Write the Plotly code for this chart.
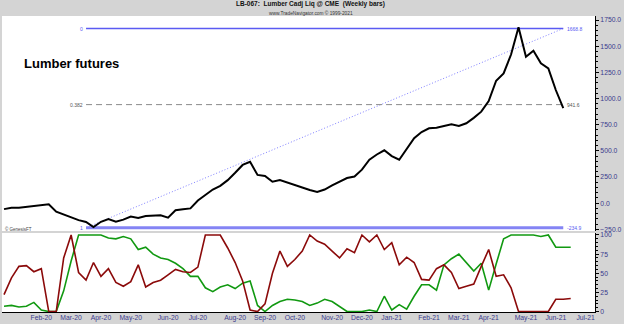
import pandas as pd
import plotly.graph_objects as go

# ---------------- data ----------------
start = pd.Timestamp("2020-01-03")  # first weekly bar (Friday)

price = [-57, -43, -45, -38, -30, -22, -10, -82, -108, -140,
         -162, -180, -228, -178, -152, -178, -157, -128, -142, -123,
         -118, -116, -138, -68, -58, -50, 25, 80, 130, 165,
         220, 290, 365, 395, 270, 260, 205, 220, 195, 175,
         145, 125, 107, 130, 170, 205, 240, 255, 320, 415,
         465, 505, 450, 415, 520, 620, 680, 715, 720, 735,
         753, 737, 763, 815, 874, 975, 1170, 1240, 1420, 1680,
         1399, 1457, 1336, 1288, 1081, 909]

green = [7, 8, 6, 7, 12, 2, 0, 0, 27, 66,
         100, 100, 100, 100, 96, 95, 98, 95, 81, 84,
         75, 70, 68, 63, 56, 46, 46, 31, 26, 32,
         35, 30, 37, 40, 8, 0, 8, 13, 16, 15,
         13, 8, 11, 16, 13, 7, 0, 0, 0, 2,
         0, 20, 2, 9, 3, 20, 35, 35, 28, 61,
         69, 75, 64, 53, 63, 28, 62, 95, 100, 100,
         100, 100, 98, 100, 84, 84, 84]

red = [22, 44, 59, 60, 52, 56, 0, 0, 70, 100,
       51, 41, 64, 46, 56, 38, 33, 39, 61, 32,
       38, 41, 48, 55, 52, 51, 58, 100, 100, 100,
       83, 64, 40, 2, 0, 10, 50, 79, 59, 68,
       79, 100, 92, 88, 79, 70, 82, 77, 100, 91,
       100, 81, 90, 61, 71, 64, 42, 41, 56, 61,
       51, 30, 33, 36, 59, 81, 46, 48, 31, 0,
       0, 0, 0, 0, 16, 16, 17]

fib_levels = [1668.8, 941.6, -234.9]
fib_ratio_labels = ["0", "0.382", "1"]
fib_start_index = 11
fib_end_index = 75

tick_dates = ["2020-02-07", "2020-03-06", "2020-04-03", "2020-05-01", "2020-06-05",
              "2020-07-03", "2020-08-07", "2020-09-04", "2020-10-02", "2020-11-06",
              "2020-12-04", "2021-01-01", "2021-02-05", "2021-03-05", "2021-04-02",
              "2021-05-07", "2021-06-04", "2021-07-02"]
tick_labels = ["Feb-20", "Mar-20", "Apr-20", "May-20", "Jun-20", "Jul-20", "Aug-20",
               "Sep-20", "Oct-20", "Nov-20", "Dec-20", "Jan-21", "Feb-21", "Mar-21",
               "Apr-21", "May-21", "Jun-21", "Jul-21"]

price_ticks = [-250, 0, 250, 500, 750, 1000, 1250, 1500, 1750]
ind_ticks = [0, 25, 50, 75, 100]

# ---------------- figure ----------------
price_dates = pd.date_range(start, periods=len(price), freq="7D")
ind_dates = pd.date_range(start, periods=len(green), freq="7D")
fib_x = [price_dates[fib_start_index], price_dates[fib_end_index]]

FONT = "Arial, Liberation Sans, sans-serif"
NAVY = "#3a3a8c"
BLUE = "#5a5af2"

fig = go.Figure()

# fib lines
fig.add_trace(go.Scatter(x=fib_x, y=[fib_levels[2], fib_levels[0]], mode="lines",
                         line=dict(color="#8080ff", width=1, dash="1px,2px"),
                         xaxis="x", yaxis="y", hoverinfo="skip"))
fig.add_trace(go.Scatter(x=fib_x, y=[fib_levels[0]] * 2, mode="lines",
                         line=dict(color=BLUE, width=1.5), xaxis="x", yaxis="y"))
fig.add_trace(go.Scatter(x=fib_x, y=[fib_levels[1]] * 2, mode="lines",
                         line=dict(color="#8a8a8a", width=1, dash="6px,4px"),
                         xaxis="x", yaxis="y"))
fig.add_trace(go.Scatter(x=fib_x, y=[fib_levels[2]] * 2, mode="lines",
                         line=dict(color="#8484f4", width=3), xaxis="x", yaxis="y"))

# price
fig.add_trace(go.Scatter(x=price_dates, y=price, mode="lines",
                         line=dict(color="black", width=2), xaxis="x", yaxis="y"))

# indicator
fig.add_trace(go.Scatter(x=ind_dates, y=green, mode="lines",
                         line=dict(color="#119911", width=1.6), xaxis="x2", yaxis="y2"))
fig.add_trace(go.Scatter(x=ind_dates, y=red, mode="lines",
                         line=dict(color="#8b0a0a", width=1.6), xaxis="x2", yaxis="y2"))

x_range = [str(start - pd.Timedelta(days=1.9)), str(start + pd.Timedelta(days=554.8))]

annotations = []
fib_colors = [BLUE, "#555555", BLUE]
for lvl, lab, col in zip(fib_levels, fib_ratio_labels, fib_colors):
    annotations.append(dict(x=fib_x[0], y=lvl, xref="x", yref="y", text=lab,
                            showarrow=False, xanchor="right", yanchor="middle",
                            xshift=-1, font=dict(size=5, color=col, family=FONT)))
    annotations.append(dict(x=fib_x[1], y=lvl, xref="x", yref="y", text=f"{lvl:.1f}",
                            showarrow=False, xanchor="left", yanchor="middle",
                            xshift=2, font=dict(size=5, color=col, family=FONT)))

annotations += [
    dict(x=0.521, y=1.039, xref="paper", yref="paper", showarrow=False,
         text="<b>LB-067:  Lumber Cadj Liq @ CME  (Weekly bars)</b>",
         font=dict(size=6.5, color="#111111", family=FONT), xanchor="center", yanchor="middle"),
    dict(x=0.521, y=1.0105, xref="paper", yref="paper", showarrow=False,
         text="www.TradeNavigator.com © 1999-2021",
         font=dict(size=4.8, color="#333333", family=FONT), xanchor="center", yanchor="middle"),
    dict(x=0.034, y=0.841, xref="paper", yref="paper", showarrow=False,
         text="<b>Lumber futures</b>",
         font=dict(size=13, color="black", family=FONT), xanchor="left", yanchor="middle"),
    dict(x=0.002, y=0.279, xref="paper", yref="paper", showarrow=False,
         text="© GenesisFT",
         font=dict(size=4.5, color="#444444", family=FONT), xanchor="left", yanchor="middle"),
]

fig.update_layout(
    width=624, height=324,
    margin=dict(l=2, r=29, t=16, b=12),
    paper_bgcolor="#d4d4d4",
    plot_bgcolor="white",
    showlegend=False,
    font=dict(family=FONT, size=7, color=NAVY),
    annotations=annotations,
    xaxis=dict(domain=[0, 1], anchor="y", range=x_range, type="date",
               showticklabels=False, showgrid=False, zeroline=False, ticks=""),
    xaxis2=dict(domain=[0, 1], anchor="y2", range=x_range, type="date",
                tickvals=tick_dates, ticktext=tick_labels, ticks="",
                ticklabelstandoff=-1,
                showgrid=False, zeroline=False, showline=True, linecolor="black",
                linewidth=1, tickfont=dict(size=6.8, color=NAVY, family=FONT)),
    yaxis=dict(domain=[0.2736, 1], anchor="x", side="right", range=[-266.2, 1788.2],
               tickvals=price_ticks, tickformat=".1f", ticks="outside", ticklen=3,
               tickcolor="black", showline=True, linecolor="black", linewidth=1,
               showgrid=False, zeroline=False,
               minor=dict(ticks="outside", ticklen=1.5, dtick=50, tickcolor="black"),
               tickfont=dict(size=6.8, color=NAVY, family=FONT)),
    yaxis2=dict(domain=[0, 0.2669], anchor="x2", side="right", range=[-0.6, 102.6],
                tickvals=ind_ticks, ticks="outside", ticklen=3, tickcolor="black",
                showline=True, linecolor="black", linewidth=1,
                showgrid=False, zeroline=False,
                minor=dict(ticks="outside", ticklen=1.5, dtick=5, tickcolor="black"),
                tickfont=dict(size=6.8, color=NAVY, family=FONT)),
)

fig.write_html("out.html")
